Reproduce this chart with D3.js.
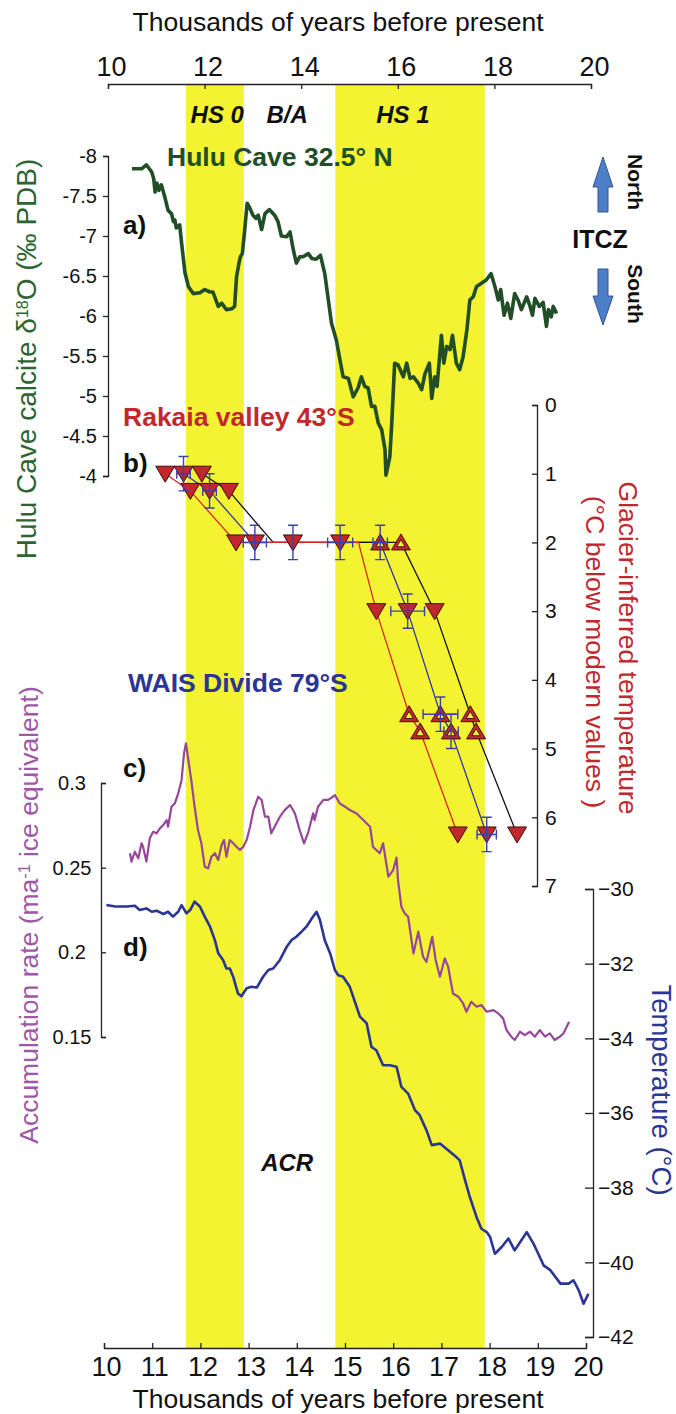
<!DOCTYPE html>
<html>
<head>
<meta charset="utf-8">
<script src="https://cdn.jsdelivr.net/npm/d3@7/dist/d3.min.js"></script>
<style>
  body { margin: 0; background: #fff; }
  svg { display: block; font-family: "Liberation Sans", Arial, Helvetica, sans-serif; }
</style>
</head>
<body>
<div id="chart"></div>
<script>
'use strict';

var width = 676, height = 1414;

// ---- data ----

// stadial bands (kyr BP)
var bands = [[11.7, 12.9], [14.8, 17.9]];
var bandLabels = [['HS 0', 12.35], ['B/A', 13.8], ['HS 1', 16.2]];

var xTicksTop = [10, 12, 14, 16, 18, 20];
var xTicksBottom = [10, 11, 12, 13, 14, 15, 16, 17, 18, 19, 20];
var huluTicks = [-8, -7.5, -7, -6.5, -6, -5.5, -5, -4.5, -4];
var glacierTicks = [0, 1, 2, 3, 4, 5, 6, 7];
var accTicks = [0.3, 0.25, 0.2, 0.15];
var tempTicks = [-30, -32, -34, -36, -38, -40, -42];

// a) Hulu Cave d18O [age, permil]
var hulu = [
  [10.58,-7.84],[10.78,-7.84],[10.88,-7.89],[10.99,-7.80],[11.03,-7.72],[11.06,-7.55],
  [11.10,-7.66],[11.14,-7.57],[11.19,-7.64],[11.26,-7.49],[11.33,-7.32],[11.40,-7.28],
  [11.44,-7.18],[11.47,-7.20],[11.50,-7.10],[11.57,-7.14],[11.61,-6.91],[11.68,-6.54],
  [11.75,-6.37],[11.85,-6.28],[11.99,-6.29],[12.09,-6.33],[12.20,-6.30],[12.26,-6.30],
  [12.37,-6.12],[12.44,-6.16],[12.54,-6.08],[12.65,-6.09],[12.71,-6.12],[12.75,-6.49],
  [12.80,-6.66],[12.83,-6.74],[12.87,-6.78],[12.92,-7.08],[12.97,-7.41],[13.01,-7.37],
  [13.09,-7.26],[13.15,-7.22],[13.20,-7.26],[13.27,-7.08],[13.34,-7.28],[13.43,-7.33],
  [13.54,-7.26],[13.61,-7.18],[13.68,-7.00],[13.79,-6.99],[13.86,-7.05],[13.92,-6.85],
  [13.99,-6.66],[14.06,-6.74],[14.13,-6.74],[14.24,-6.78],[14.31,-6.72],[14.40,-6.71],
  [14.49,-6.76],[14.58,-6.53],[14.72,-5.91],[14.82,-5.70],[14.96,-5.24],[15.07,-5.22],
  [15.17,-4.99],[15.27,-5.10],[15.34,-5.24],[15.41,-5.12],[15.48,-5.10],[15.55,-4.87],
  [15.62,-4.87],[15.69,-4.66],[15.76,-4.58],[15.83,-4.33],[15.85,-4.01],[15.93,-4.24],
  [15.97,-4.66],[16.03,-5.41],[16.10,-5.39],[16.21,-5.24],[16.28,-5.41],[16.35,-5.22],
  [16.42,-5.24],[16.52,-5.16],[16.59,-5.08],[16.66,-5.28],[16.75,-5.41],[16.80,-4.97],
  [16.86,-5.24],[16.91,-5.12],[17.00,-5.76],[17.05,-5.41],[17.11,-5.62],[17.18,-5.58],
  [17.23,-5.76],[17.31,-5.41],[17.38,-5.33],[17.45,-5.49],[17.53,-5.83],[17.59,-6.20],
  [17.66,-6.24],[17.73,-6.37],[17.83,-6.41],[17.93,-6.45],[18.03,-6.53],[18.11,-6.37],
  [18.18,-6.20],[18.23,-6.33],[18.30,-6.01],[18.37,-6.16],[18.44,-5.97],[18.52,-6.28],
  [18.59,-6.20],[18.66,-6.08],[18.77,-6.24],[18.84,-6.12],[18.89,-6.01],[18.94,-6.22],
  [19.03,-6.12],[19.11,-6.17],[19.18,-5.87],[19.22,-6.08],[19.28,-5.99],[19.32,-6.12],
  [19.39,-6.03]
];

// b) Rakaia glacier-inferred cooling, three age models [age, degC below modern]
var glacierYoung = [[11.27,1],[11.79,1.25],[12.74,2],[13.13,2],[13.92,2],[14.90,2],[15.28,2],
  [15.65,3],[16.33,4.5],[16.56,4.75],[17.34,6.25]];
var glacierMean = [[11.65,1],[12.19,1.25],[13.13,2],[15.73,2],[16.30,3],[16.98,4.5],[17.20,4.75],[17.94,6.25]];
var glacierOld = [[12.03,1],[12.59,1.25],[13.51,2],[16.16,2],[16.86,3],[17.60,4.5],[17.72,4.75],[18.57,6.25]];

// moraine markers [age, temp]; filled down triangles and hollow up triangles
var moraineDown = [
  [11.27,1],[11.65,1],[12.03,1],[11.79,1.25],[12.19,1.25],[12.59,1.25],
  [12.74,2],[13.13,2],[13.92,2],[14.90,2],[15.65,3],[16.30,3],[16.86,3],
  [17.34,6.25],[17.94,6.25],[18.57,6.25]
];
var moraineUp = [
  [15.73,2],[16.16,2],[16.33,4.5],[16.98,4.5],[17.60,4.5],[16.56,4.75],[17.20,4.75],[17.72,4.75]
];
// error bars [age, temp, age err, temp err]
var moraineErr = [
  [11.65,1,0.14,0.25],[12.19,1.25,0.14,0.25],[13.13,2,0.24,0.25],[13.92,2,0,0.25],
  [14.90,2,0.26,0.25],[15.73,2,0.15,0.25],[16.30,3,0.35,0.25],[16.98,4.5,0.36,0.25],
  [17.20,4.75,0.15,0.25],[17.94,6.25,0.2,0.25]
];

// c) WAIS Divide accumulation [age, m/a ice eq]
var accumulation = [
  [10.54,0.2585],[10.57,0.2536],[10.64,0.2594],[10.71,0.2555],[10.78,0.2644],[10.81,0.2624],
  [10.88,0.2536],[10.95,0.2673],[11.02,0.2712],[11.09,0.2703],[11.16,0.2732],[11.23,0.2752],
  [11.30,0.2781],[11.33,0.2742],[11.40,0.2860],[11.47,0.2880],[11.54,0.2939],[11.61,0.3018],
  [11.66,0.3175],[11.70,0.3234],[11.75,0.3136],[11.81,0.3018],[11.88,0.2860],[11.95,0.2722],
  [12.02,0.2644],[12.09,0.2506],[12.16,0.2496],[12.23,0.2565],[12.30,0.2585],[12.37,0.2545],
  [12.44,0.2634],[12.49,0.2663],[12.54,0.2565],[12.61,0.2663],[12.68,0.2644],[12.75,0.2624],
  [12.82,0.2604],[12.89,0.2624],[12.96,0.2663],[13.03,0.2742],[13.10,0.2840],[13.20,0.2919],
  [13.27,0.2900],[13.34,0.2801],[13.41,0.2801],[13.47,0.2703],[13.54,0.2742],[13.65,0.2801],
  [13.75,0.2840],[13.86,0.2870],[13.96,0.2821],[14.06,0.2722],[14.15,0.2644],[14.24,0.2712],
  [14.34,0.2821],[14.37,0.2781],[14.44,0.2860],[14.55,0.2900],[14.65,0.2900],[14.75,0.2919],
  [14.79,0.2929],[14.89,0.2880],[15.00,0.2860],[15.10,0.2840],[15.24,0.2820],[15.38,0.2781],
  [15.52,0.2742],[15.58,0.2624],[15.72,0.2585],[15.79,0.2644],[15.90,0.2447],[16.00,0.2486],
  [16.07,0.2560],[16.10,0.2427],[16.17,0.2269],[16.24,0.2230],[16.31,0.2210],[16.42,0.1993],
  [16.52,0.2122],[16.62,0.1974],[16.69,0.1944],[16.81,0.2092],[16.88,0.1955],[16.97,0.1856],
  [17.07,0.1964],[17.14,0.1915],[17.24,0.1757],[17.35,0.1738],[17.45,0.1698],[17.52,0.1649],
  [17.62,0.1708],[17.73,0.1679],[17.83,0.1689],[17.94,0.1649],[18.08,0.1659],[18.18,0.1639],
  [18.28,0.1610],[18.35,0.1541],[18.45,0.1502],[18.52,0.1482],[18.63,0.1531],[18.73,0.1511],
  [18.84,0.1531],[18.94,0.1502],[19.04,0.1541],[19.15,0.1502],[19.25,0.1521],[19.35,0.1482],
  [19.46,0.1502],[19.53,0.1521],[19.60,0.1560],[19.65,0.1590]
];

// d) WAIS Divide temperature [age, degC]
var temperature = [
  [10.05,-30.43],[10.23,-30.47],[10.47,-30.47],[10.64,-30.45],[10.74,-30.56],[10.88,-30.52],
  [10.99,-30.61],[11.09,-30.58],[11.23,-30.67],[11.33,-30.61],[11.43,-30.74],[11.54,-30.61],
  [11.61,-30.43],[11.71,-30.65],[11.79,-30.56],[11.88,-30.34],[11.99,-30.47],[12.09,-30.74],
  [12.20,-31.01],[12.30,-31.37],[12.37,-31.72],[12.47,-31.90],[12.54,-32.13],[12.61,-32.13],
  [12.68,-32.35],[12.78,-32.80],[12.85,-32.87],[12.96,-32.66],[13.06,-32.62],[13.17,-32.64],
  [13.30,-32.35],[13.41,-32.17],[13.51,-32.13],[13.65,-31.90],[13.79,-31.55],[13.89,-31.37],
  [13.99,-31.28],[14.10,-31.14],[14.20,-31.01],[14.31,-30.79],[14.41,-30.61],[14.48,-30.83],
  [14.58,-31.37],[14.69,-31.72],[14.79,-32.17],[14.86,-32.31],[14.96,-32.35],[15.10,-32.62],
  [15.31,-33.42],[15.45,-33.60],[15.55,-34.23],[15.65,-34.32],[15.79,-34.72],[15.93,-34.72],
  [16.07,-34.76],[16.17,-35.30],[16.31,-35.48],[16.45,-35.92],[16.55,-36.06],[16.69,-36.46],
  [16.80,-36.86],[16.97,-36.82],[17.14,-37.00],[17.31,-37.18],[17.38,-37.27],[17.49,-37.80],
  [17.59,-38.25],[17.73,-38.79],[17.83,-39.10],[17.94,-39.19],[18.01,-39.32],[18.11,-39.77],
  [18.25,-39.59],[18.39,-39.36],[18.52,-39.68],[18.66,-39.41],[18.77,-39.19],[18.91,-39.50],
  [19.01,-39.77],[19.12,-40.08],[19.26,-40.21],[19.47,-40.57],[19.64,-40.57],[19.74,-40.48],
  [19.85,-40.75],[19.95,-41.11],[20.05,-40.84]
];

// ---- colours ----
var yellow = '#f3f332';
var green = '#214e27', greenText = '#2c6432';
var red = '#c1272d';
var purple = '#97479b', purpleText = '#9d58a6';
var navy = '#2b3593';
var errBlue = '#3b3fae';

// ---- scales ----
var x = d3.scaleLinear().domain([10, 20]).range([104, 586]);
var xTop = d3.scaleLinear().domain([10, 20]).range([108, 591]);
var yHulu = d3.scaleLinear().domain([-8, -4]).range([156, 476]);
var yGlac = d3.scaleLinear().domain([0, 7]).range([405, 886]);
var yAcc = d3.scaleLinear().domain([0.15, 0.3]).range([1037, 783]);
var yTemp = d3.scaleLinear().domain([-42, -30]).range([1337, 889]);

var svg = d3.select('#chart')
            .append('svg')
            .attr('width', width)
            .attr('height', height);

svg.append('rect').attr('width', width).attr('height', height).attr('fill', '#fff');

// stadial bands
svg.selectAll('rect.band')
   .data(bands)
   .enter().append('rect')
   .attr('class', 'band')
   .attr('x', function(d) { return x(d[0]); })
   .attr('width', function(d) { return x(d[1]) - x(d[0]); })
   .attr('y', 84)
   .attr('height', 1348 - 84)
   .attr('fill', yellow);

var styleAxis = function(g, size) {
  g.select('.domain').attr('stroke', '#222').attr('stroke-width', 1.3);
  g.selectAll('.tick line').attr('stroke', '#222').attr('stroke-width', 1.3);
  g.selectAll('.tick text')
   .attr('fill', '#111')
   .style('font-size', size + 'px')
   .style('font-family', '"Liberation Sans", Arial, sans-serif');
};

var minus = function(v) { return String(v).replace('-', '\u2212'); };

// top axis
var gTop = svg.append('g')
              .attr('transform', 'translate(0,84)')
              .call(d3.axisTop(xTop).tickValues(xTicksTop).tickSize(-5).tickSizeOuter(-5).tickPadding(8));
styleAxis(gTop, 27);
gTop.selectAll('.tick text').attr('dx', 3);

// bottom axis
var gBot = svg.append('g')
              .attr('transform', 'translate(0,1348)')
              .call(d3.axisBottom(x).tickValues(xTicksBottom).tickSize(-5).tickSizeOuter(-5).tickPadding(9));
styleAxis(gBot, 27);
gBot.selectAll('.tick text').attr('dx', 2);

// Hulu axis (left)
var gHulu = svg.append('g')
               .attr('transform', 'translate(108,0)')
               .call(d3.axisLeft(yHulu).tickValues(huluTicks).tickSize(5).tickSizeOuter(5).tickPadding(6)
                       .tickFormat(function(d) { return String(d); }));
styleAxis(gHulu, 20);

// glacier axis (right side of panel b)
var gGlac = svg.append('g')
               .attr('transform', 'translate(537,0)')
               .call(d3.axisRight(yGlac).tickValues(glacierTicks).tickSize(-5).tickSizeOuter(-5).tickPadding(8)
                       .tickFormat(function(d) { return String(d); }));
styleAxis(gGlac, 21);

// accumulation axis
var gAcc = svg.append('g')
              .attr('transform', 'translate(101,0)')
              .call(d3.axisLeft(yAcc).tickValues(accTicks).tickSize(-5).tickSizeOuter(-5)
                      .tickFormat(function(d) { return String(d); }));
styleAxis(gAcc, 20);
gAcc.selectAll('.tick text').attr('x', -29).attr('text-anchor', 'middle');

// temperature axis
var gTemp = svg.append('g')
               .attr('transform', 'translate(593,0)')
               .call(d3.axisRight(yTemp).tickValues(tempTicks).tickSize(-8).tickSizeOuter(-8).tickPadding(5)
                       .tickFormat(minus));
styleAxis(gTemp, 21);

// ---- series ----
var line = function(ys) {
  return d3.line().x(function(d) { return x(d[0]); }).y(function(d) { return ys(d[1]); });
};

svg.append('path').datum(accumulation)
   .attr('d', line(yAcc)).attr('fill', 'none')
   .attr('stroke', purple).attr('stroke-width', 2.2).attr('stroke-linejoin', 'round');

svg.append('path').datum(temperature)
   .attr('d', line(yTemp)).attr('fill', 'none')
   .attr('stroke', navy).attr('stroke-width', 2.6).attr('stroke-linejoin', 'round');

svg.append('path').datum(hulu)
   .attr('d', line(yHulu)).attr('fill', 'none')
   .attr('stroke', green).attr('stroke-width', 3.6).attr('stroke-linejoin', 'round');

// glacier age-model lines
[[glacierMean, '#2f36a8'], [glacierOld, '#111'], [glacierYoung, '#d8262b']].forEach(function(s) {
  svg.append('path').datum(s[0])
     .attr('d', line(yGlac)).attr('fill', 'none')
     .attr('stroke', s[1]).attr('stroke-width', 1.3);
});

// markers
svg.selectAll('path.down')
   .data(moraineDown)
   .enter().append('path')
   .attr('class', 'down')
   .attr('transform', function(d) { return 'translate(' + x(d[0]) + ',' + yGlac(d[1]) + ')'; })
   .attr('d', 'M-9.5,-7.5L9.5,-7.5L0,8.5Z')
   .attr('fill', red).attr('stroke', '#3a1010').attr('stroke-width', 1);

var ups = svg.selectAll('g.up')
             .data(moraineUp)
             .enter().append('g')
             .attr('class', 'up')
             .attr('transform', function(d) { return 'translate(' + x(d[0]) + ',' + yGlac(d[1]) + ')'; });
ups.append('path')
   .attr('d', 'M-9.5,7.5L9.5,7.5L0,-8.5Z')
   .attr('fill', red).attr('stroke', '#3a1010').attr('stroke-width', 1);
ups.append('path')
   .attr('d', 'M-4.2,4.3L4.2,4.3L0,-2.8Z')
   .attr('fill', yellow).attr('stroke', '#3a1010').attr('stroke-width', 0.9);

// error bars
var eb = svg.selectAll('g.err')
            .data(moraineErr)
            .enter().append('g')
            .attr('class', 'err')
            .attr('stroke', errBlue).attr('stroke-width', 1.4).attr('fill', 'none');
eb.append('path').attr('d', function(d) {
  var cx = x(d[0]), y0 = yGlac(d[1] - d[3]), y1 = yGlac(d[1] + d[3]);
  return 'M' + cx + ',' + y0 + 'V' + y1 +
         'M' + (cx - 5) + ',' + y0 + 'H' + (cx + 5) +
         'M' + (cx - 5) + ',' + y1 + 'H' + (cx + 5);
});
eb.filter(function(d) { return d[2] > 0; })
  .append('path').attr('d', function(d) {
    var cy = yGlac(d[1]), x0 = x(d[0] - d[2]), x1 = x(d[0] + d[2]);
    return 'M' + x0 + ',' + cy + 'H' + x1 +
           'M' + x0 + ',' + (cy - 5) + 'V' + (cy + 5) +
           'M' + x1 + ',' + (cy - 5) + 'V' + (cy + 5);
  });

// ---- ITCZ arrows ----
var arrowUp = 'M603,157 L613,187 L608,187 L608,212 L598,212 L598,187 L593,187 Z';
var arrowDown = 'M603,325 L613,296 L608,296 L608,269 L598,269 L598,296 L593,296 Z';
[arrowUp, arrowDown].forEach(function(p) {
  svg.append('path').attr('d', p).attr('fill', '#4d7fc9').attr('stroke', '#34558f').attr('stroke-width', 1);
});

// ---- text ----
var text = function(str, tx, ty, opts) {
  var t = svg.append('text')
             .attr('transform', 'translate(' + tx + ',' + ty + ')' + (opts.rotate ? ' rotate(' + opts.rotate + ')' : ''))
             .attr('text-anchor', opts.anchor || 'start')
             .attr('fill', opts.color || '#111')
             .style('font-size', (opts.size || 25) + 'px')
             .style('font-weight', opts.bold ? 'bold' : 'normal')
             .style('font-style', opts.italic ? 'italic' : 'normal')
             .text(str);
  return t;
};

text('Thousands of years before present', 338, 31, { anchor: 'middle', size: 26.5 });
text('Thousands of years before present', 338, 1408, { anchor: 'middle', size: 26.5 });

bandLabels.forEach(function(b) {
  text(b[0], x(b[1]), 123, { anchor: 'middle', size: 24, bold: true, italic: true });
});
text('ACR', x(13.8), 1171, { anchor: 'middle', size: 24, bold: true, italic: true });

text('Hulu Cave 32.5\u00b0 N', 167, 166, { size: 26.5, bold: true, color: green });
text('Rakaia valley 43\u00b0S', 123, 426, { size: 26.5, bold: true, color: red });
text('WAIS Divide 79\u00b0S', 128, 692, { size: 26.5, bold: true, color: navy });

text('a)', 123, 234, { size: 26, bold: true });
text('b)', 123, 472, { size: 26, bold: true });
text('c)', 123, 777, { size: 26, bold: true });
text('d)', 123, 956, { size: 26, bold: true });

text('ITCZ', 600, 248, { anchor: 'middle', size: 25, bold: true });
text('North', 628, 182, { anchor: 'middle', size: 21, bold: true, rotate: 90 });
text('South', 628, 294, { anchor: 'middle', size: 21, bold: true, rotate: 90 });

// axis titles
var hl = text('Hulu Cave calcite \u03b4', 36, 359, { anchor: 'middle', size: 28, rotate: -90, color: greenText });
hl.append('tspan').attr('baseline-shift', 'super').style('font-size', '16px').text('18');
hl.append('tspan').text('O (\u2030 PDB)');

var al = text('Accumulation rate (ma', 38, 915, { anchor: 'middle', size: 26.5, rotate: -90, color: purpleText });
al.append('tspan').attr('baseline-shift', 'super').style('font-size', '16px').text('-1');
al.append('tspan').text(' ice equivalent)');

text('Glacier-inferred temperature', 619, 648, { anchor: 'middle', size: 26.5, rotate: 90, color: red });
text('(\u00b0C below modern values )', 586, 652, { anchor: 'middle', size: 26.5, rotate: 90, color: red });
text('Temperature (\u00b0C)', 652, 1090, { anchor: 'middle', size: 27.5, rotate: 90, color: navy });
</script>
</body>
</html>
